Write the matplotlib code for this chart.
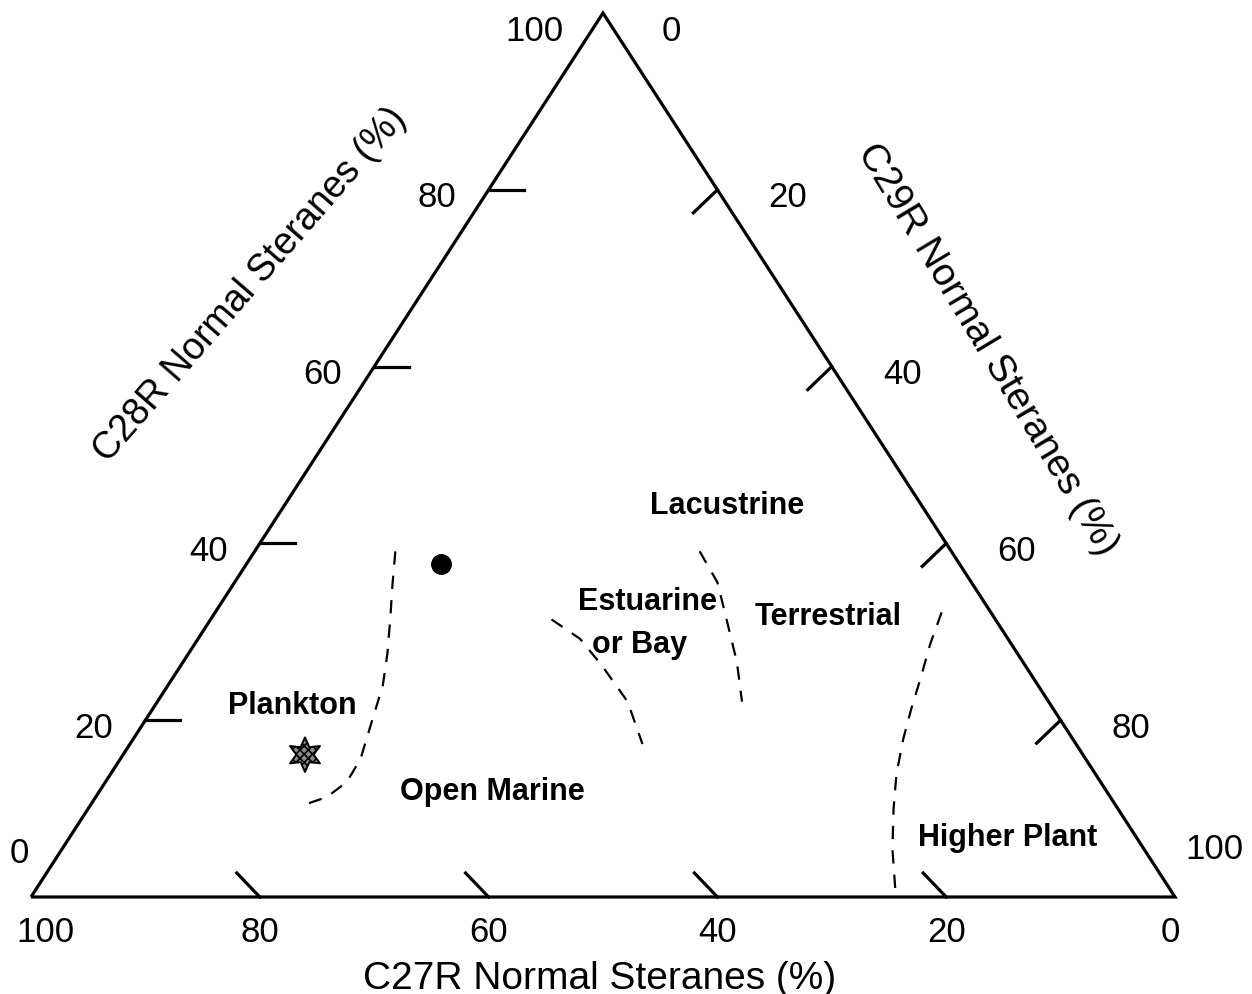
import matplotlib.pyplot as plt
import numpy as np

plt.rcParams['font.family'] = ['Liberation Sans', 'DejaVu Sans']
plt.rcParams['hatch.linewidth'] = 1.2

# axis tick values (percent)
tick_values = [0, 20, 40, 60, 80, 100]

# samples as (C27, C28, C29) percent
circle_sample = (45.3, 37.7, 17.0)
star_sample = (68.0, 16.1, 15.9)

# environment boundaries as C28 / C29 percent (C27 is the remainder)
plankton_c28 = [39.1, 35.4, 31.4, 27.5, 23.9, 20.1, 15.6, 13.0, 11.3, 10.4]
plankton_c29 = [12.3, 13.9, 15.7, 17.4, 18.8, 19.8, 21.0, 21.1, 20.2, 18.6]

estuarine_c28 = [31.4, 29.2, 26.1, 22.1, 17.3]
estuarine_c29 = [29.8, 33.4, 36.9, 41.1, 44.8]

terrestrial_c28 = [39.1, 35.6, 31.4, 26.6, 22.1]
terrestrial_c29 = [38.9, 42.2, 45.1, 48.4, 51.1]

higher_plant_c28 = [32.2, 28.6, 24.7, 21.3, 17.9, 13.9, 10.0, 5.4, 0.9]
higher_plant_c29 = [63.5, 64.3, 65.4, 66.3, 67.3, 68.7, 70.4, 72.6, 75.1]

# field labels: text, C28, C29
field_names = ['Lacustrine', 'Estuarine', 'or Bay', 'Terrestrial',
               'Plankton', 'Open Marine', 'Higher Plant']
field_c28 = [44.3, 33.5, 28.6, 31.8, 21.7, 12.0, 6.8]
field_c29 = [38.7, 37.1, 38.9, 53.8, 12.0, 34.3, 82.0]


def tern(c28, c29):
    c28 = np.asarray(c28, dtype=float) / 100.0
    c29 = np.asarray(c29, dtype=float) / 100.0
    return c29 + c28 / 2.0, c28


SX, SY = 1144.0, 884.0  # pixels per unit in x and y


def px(x, y):
    # figure pixel (from top-left) to data coords
    return (x - 31) / SX, (898 - y) / SY


fig = plt.figure(figsize=(12.52, 9.95), dpi=100)
ax = fig.add_axes([0, 0, 1, 1])
ax.set_xlim(-31 / SX, (1252 - 31) / SX)
ax.set_ylim(-(995 - 898) / SY, 898 / SY)
ax.axis('off')

# triangle frame
ax.plot([0, 1, 0.5, 0], [0, 0, 1, 0], color='black', lw=2.3,
        solid_joinstyle='miter', solid_capstyle='butt', zorder=3)

# tick marks
for v in tick_values[1:-1]:
    # C28, left edge
    x, y = tern(v, 0)
    ax.plot([x, x + 35 / SX], [y, y], color='black', lw=2.3)
    # C29, right edge
    x, y = tern(100 - v, v)
    ax.plot([x, x - 24 / SX], [y, y - 23 / SY], color='black', lw=2.3)
    # C27, base
    x, y = tern(0, 100 - v)
    ax.plot([x, x - 23 / SX], [y, y + 24 / SY], color='black', lw=2.3)

# tick labels
fs_tick = 25
for v in tick_values:
    x, y = tern(v, 0)
    off = (-32, -7)
    if v == 100:
        off = (-40, -18)
    elif v == 0:
        off = (-2, 44)
    ax.annotate(str(v), (x, y), xytext=off, textcoords='offset pixels',
                ha='right', va='center', fontsize=fs_tick)

    x, y = tern(100 - v, v)
    off = (51, -7)
    if v == 0:
        off = (59, -18)
    elif v == 100:
        off = (10, 48)
    ax.annotate(str(v), (x, y), xytext=off, textcoords='offset pixels',
                ha='left', va='center', fontsize=fs_tick)

    x, y = tern(0, 100 - v)
    off = (0, -35)
    if v == 100:
        off = (14, -35)
    elif v == 0:
        off = (-5, -35)
    ax.annotate(str(v), (x, y), xytext=off, textcoords='offset pixels',
                ha='center', va='center', fontsize=fs_tick)

# axis titles
fs_title = 28
ax.text(*px(600, 989), 'C27R Normal Steranes (%)', fontsize=fs_title,
        ha='center', va='baseline')
ax.text(*px(250, 285), 'C28R Normal Steranes (%)', fontsize=27,
        ha='center', va='center', rotation=49, rotation_mode='anchor')
ax.text(*px(987, 350), 'C29R Normal Steranes (%)', fontsize=fs_title,
        ha='center', va='center', rotation=-59, rotation_mode='anchor')

# boundaries
for c28, c29 in [(plankton_c28, plankton_c29),
                 (estuarine_c28, estuarine_c29),
                 (terrestrial_c28, terrestrial_c29),
                 (higher_plant_c28, higher_plant_c29)]:
    x, y = tern(c28, c29)
    ax.plot(x, y, color='black', lw=1.6, linestyle=(0, (6, 5)))

# field names
for name, c28, c29 in zip(field_names, field_c28, field_c29):
    x, y = tern(c28, c29)
    ax.text(x, y, name, fontsize=22, fontweight='bold', ha='center',
            va='center')

# samples
x, y = tern(circle_sample[1], circle_sample[2])
ax.plot(x, y, 'o', color='black', ms=14)
x, y = tern(star_sample[1], star_sample[2])
ax.scatter([x], [y], marker=(6, 1, 0), s=620, facecolor='#8a8a8a',
           edgecolor='black', linewidths=1.4, hatch='xxxx', zorder=4)

fig.savefig('out.png', dpi=100, facecolor='white')
